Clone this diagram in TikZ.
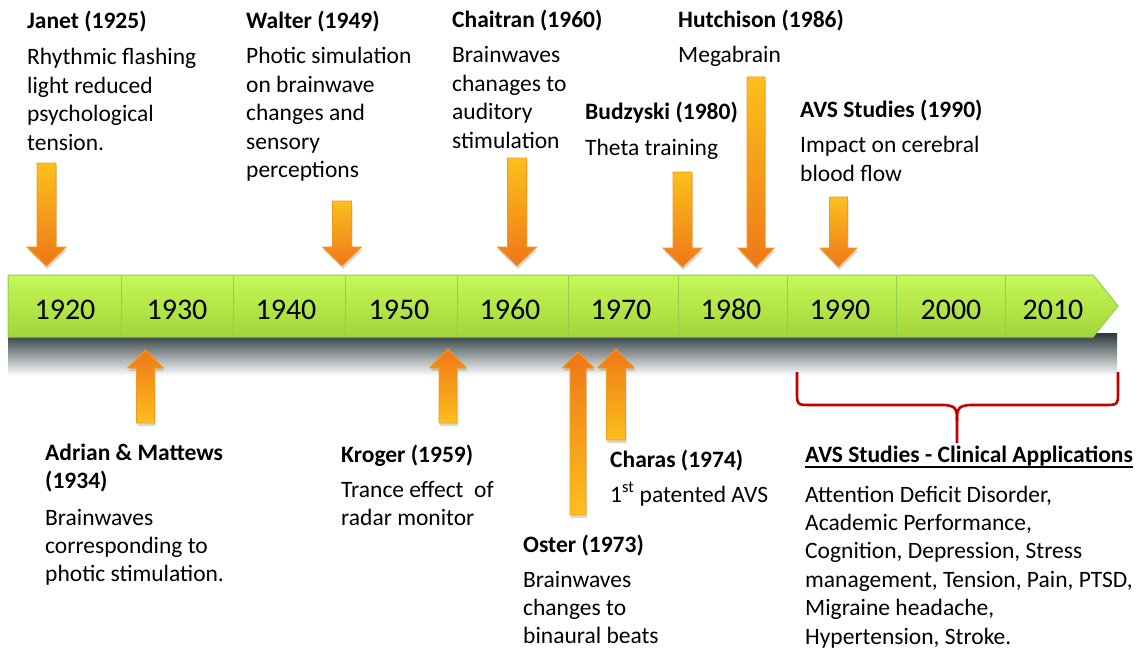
\documentclass[tikz,border=0pt]{standalone}
\usepackage{fontspec}
\setmainfont{Carlito}
\usetikzlibrary{calc,shadows}

\definecolor{barTop}{HTML}{C4F957}
\definecolor{barBot}{HTML}{A3D43A}
\definecolor{barLine}{HTML}{8ECF52}
\definecolor{shadeTop}{HTML}{2A383C}
\definecolor{arrYel}{HTML}{FCC01C}
\definecolor{arrOra}{HTML}{EE7717}
\definecolor{arrEdge}{HTML}{F39A1E}
\definecolor{braceRed}{HTML}{C00000}

% lines of a label, baseline at the first line
\newcommand{\lns}[1]{\begin{tabular}[t]{@{}l@{}}#1\end{tabular}}

% block arrow: [style]{x}{tail y}{neck y}{tip y}{shaft half width}{head half width}
\newcommand{\blockarrow}[7][]{%
  \path[arrowbody,#1] ({#2-#6},#3) -- ({#2+#6},#3) -- ({#2+#6},#4) -- ({#2+#7},#4)
    -- (#2,#5) -- ({#2-#7},#4) -- ({#2-#6},#4) -- cycle;}

\tikzset{
  year/.style={font=\fontsize{30}{36}\selectfont, inner sep=0pt, anchor=base},
  head/.style={font=\fontsize{23.5}{28.4}\selectfont\bfseries, inner sep=0pt, anchor=base west},
  body/.style={font=\fontsize{23.5}{28.4}\selectfont, inner sep=0pt, anchor=base west},
  arrowbody/.style={draw=arrEdge, line width=0.8pt, line join=miter,
    drop shadow={shadow xshift=1pt, shadow yshift=-3pt, opacity=0.3, fill=gray}},
  pointdown/.style={top color=arrYel, bottom color=arrOra},
  pointup/.style={top color=arrOra, bottom color=arrYel},
  divider/.style={draw=barLine, line width=1pt},
  brace/.style={draw=braceRed, line width=2.6pt, line join=round},
}

\begin{document}
\begin{tikzpicture}[x=1pt, y=-1pt]
\useasboundingbox (0,0) rectangle (1148,650);
\fill[white] (0,0) rectangle (1148,650);

% shadow under the time bar
\shade[top color=shadeTop, bottom color=white] (8,333) rectangle (1117,376);

% time bar with its arrow tip
\path[draw=barLine, line width=1pt, top color=barTop, bottom color=barBot]
  (8,275) -- (1093,275) -- (1118,306) -- (1093,337) -- (8,337) -- cycle;
\foreach \xd in {121,233,345,457,568,678,787,896,1005}
  \draw[divider] (\xd,276) -- (\xd,336);

% decades
\node[year] (y1920) at (65,319) {1920};
\node[year] (y1930) at (177,319) {1930};
\node[year] (y1940) at (286,319) {1940};
\node[year] (y1950) at (399,319) {1950};
\node[year] (y1960) at (510,319) {1960};
\node[year] (y1970) at (621,319) {1970};
\node[year] (y1980) at (731,319) {1980};
\node[year] (y1990) at (840,319) {1990};
\node[year] (y2000) at (951,319) {2000};
\node[year] (y2010) at (1053,319) {2010};

% events above the bar
\blockarrow[pointdown]{46.5}{163}{247}{266}{9.5}{19.5}
\blockarrow[pointdown]{342}{201}{247}{266}{9.5}{19.5}
\blockarrow[pointdown]{517}{158}{247}{266}{9.5}{19.5}
\blockarrow[pointdown]{682.5}{172}{248}{267}{9.5}{19.5}
\blockarrow[pointdown]{756}{77}{248}{267}{9}{18}
\blockarrow[pointdown]{838.5}{197}{248}{267}{9}{18.5}

% events below the bar
\blockarrow[pointup]{145.5}{423}{368}{350}{9}{18}
\blockarrow[pointup]{448}{423}{368}{349}{9}{18.5}
\blockarrow[pointup]{578}{515}{368}{352}{8}{16}
\blockarrow[pointup]{616}{440}{368}{349}{9.5}{18.5}

% labels above
\node[head] (janetH) at (27,29) {Janet (1925)};
\node[body] (janetB) at (27,65) {\lns{Rhythmic flashing\\light reduced\\psychological\\tension.}};

\node[head] (walterH) at (246,29) {Walter (1949)};
\node[body] (walterB) at (246,64) {\lns{Photic simulation\\on brainwave\\changes and\\sensory\\perceptions}};

\node[head] (chaitH) at (452,28) {Chaitran (1960)};
\node[body] (chaitB) at (452,63) {\lns{Brainwaves\\chanages to\\auditory\\stimulation}};

\node[head] (hutchH) at (678,28) {Hutchison (1986)};
\node[body] (hutchB) at (678,63) {Megabrain};

\node[head] (budzH) at (585,120) {Budzyski (1980)};
\node[body] (budzB) at (585,155) {Theta training};

\node[head] (avsH) at (800,118) {AVS Studies (1990)};
\node[body] (avsB) at (800,153) {\lns{Impact on cerebral\\blood flow}};

% labels below
\node[head] (adrianH) at (45,460) {\lns{Adrian \& Mattews\\(1934)}};
\node[body] (adrianB) at (45,525) {\lns{Brainwaves\\corresponding to\\photic stimulation.}};

\node[head] (krogerH) at (341,462) {Kroger (1959)};
\node[body] (krogerB) at (341,497) {\lns{Trance effect\ \ of\\radar monitor}};

\node[head] (osterH) at (523,552) {Oster (1973)};
\node[body] (osterB) at (523,587) {\lns{Brainwaves\\changes to\\binaural beats}};

\node[head] (charasH) at (610,467) {Charas (1974)};
\node[body] (charasB) at (610,502) {1\textsuperscript{st} patented AVS};

% clinical applications, gathered by a brace
\draw[brace] (797,372) -- (797,391) .. controls (797,405) .. (811,405) -- (942,405)
  .. controls (957,405) and (957,410) .. (957,421) -- (957,443);
\draw[brace] (1118,372) -- (1118,391) .. controls (1118,405) .. (1104,405) -- (972,405)
  .. controls (957,405) and (957,410) .. (957,421);

\node[head] (clinH) at (805,462) {AVS Studies - Clinical Applications};
\draw[line width=1.3pt] ($(clinH.base west)+(0,5)$) -- ($(clinH.base east)+(0,5)$);
\node[body] (clinB) at (805,502) {\lns{Attention Deficit Disorder,\\Academic Performance,\\Cognition, Depression, Stress\\management, Tension, Pain, PTSD,\\Migraine headache,\\Hypertension, Stroke.}};
\end{tikzpicture}
\end{document}
